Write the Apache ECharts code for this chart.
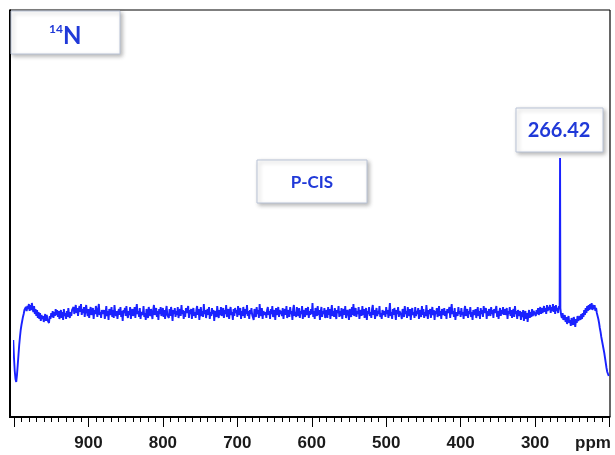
<!DOCTYPE html>
<html>
<head>
<meta charset="utf-8">
<script src="https://cdn.jsdelivr.net/npm/echarts@6/dist/echarts.min.js"></script>
<style>html,body{margin:0;padding:0;background:#fff}#c{width:615px;height:455px}</style>
</head>
<body>
<div id="c"></div>
<script>
// Spectrum sampling (ppm), uniformly spaced
const ppmStart = 1001;
const ppmStep = 1;
// Intensities (arbitrary units, baseline ~0), one per sample, 1001 -> 201 ppm
const intensity = [
  -27,-45,-58,-66,-69,-62,-52,-42,-32,-24,-17,-12,-8,-4,-1,3,1,6,2,7,
  4,9,2,8,3,10,5,1,7,-1,4,-3,3,-5,1,-6,0,-8,-2,-6,
  -3,-9,-4,-1,-8,-2,-7,-5,-10,-3,-6,0,-4,2,-5,1,-3,4,-2,3,
  -4,2,-6,-1,3,-5,1,-7,4,-3,0,-6,2,-4,5,-2,-5,1,-3,3,
  2,6,-1,4,8,0,5,-3,3,7,1,9,-2,4,0,6,-4,3,8,1,
  -3,4,-5,2,6,-2,0,5,-6,3,-1,7,2,-4,4,9,-2,1,-5,3,
  5,-1,3,-6,0,7,-3,2,-7,4,1,-2,6,-4,3,-5,8,0,-3,2,
  -6,1,4,-2,6,-4,2,-8,3,0,5,-3,7,-1,-5,2,-2,6,-6,1,
  4,-3,0,6,-5,3,9,-1,2,-4,5,-6,1,3,-2,7,-4,0,-7,4,
  2,-5,6,1,-3,4,-1,-6,3,8,-2,0,5,-4,2,-7,4,-1,6,-3,
  1,5,-4,3,-6,2,7,-2,0,-5,4,-3,6,1,-8,3,-1,5,-4,2,
  -2,6,-5,0,4,-3,8,-1,3,-6,2,-4,5,0,-2,7,-5,3,-1,4,
  -6,2,5,-3,1,-5,3,7,-2,4,-7,0,6,-3,2,-4,9,-1,3,-5,
  0,4,-2,6,-6,1,-3,5,-1,3,-8,2,4,-4,7,0,-5,3,-2,6,
  -3,1,5,-5,3,-1,8,-4,0,4,-6,2,6,-2,1,-7,4,-3,5,0,
  3,-4,7,-2,0,5,-6,2,-3,6,1,-5,4,-1,8,-3,2,-6,3,-1,
  5,-2,0,-7,4,1,-4,6,-1,3,-5,9,0,-3,5,-6,2,4,-2,1,
  -5,3,6,-2,2,-6,4,-1,7,-4,0,3,-7,5,-2,1,6,-4,3,-1,
  2,-3,5,-6,1,4,-2,7,-5,0,3,-4,6,-1,2,-7,4,8,-3,1,
  -4,6,0,-3,5,-5,2,-1,7,-6,3,1,-4,5,-2,0,6,-5,2,-2,
  4,-1,10,-4,2,-6,5,0,-3,7,-2,3,-7,1,6,-4,2,-1,5,-5,
  0,3,-5,6,-2,4,-6,1,8,-3,2,-4,5,-1,-6,3,0,7,-4,2,
  -3,5,-6,1,4,-2,7,-5,0,3,-1,-7,4,2,-4,6,-2,9,-3,1,
  5,-4,2,-1,6,-6,0,3,-3,7,-2,4,-5,1,5,-7,2,-1,6,-3,
  1,-5,4,8,-2,3,-6,0,5,-3,2,-1,7,-4,0,-6,3,5,-2,2,
  -4,6,-1,3,-5,2,10,-3,1,-6,4,-2,5,0,-7,3,-1,6,-4,2,
  3,-2,-6,4,1,-4,7,-1,2,-5,6,0,-3,4,-7,2,5,-2,1,-5,
  6,-3,2,-1,5,-6,3,0,-4,7,-2,4,-5,1,-3,8,0,-6,3,-1,
  4,-5,1,6,-2,3,-7,2,-1,5,-4,0,7,-3,2,-6,4,1,-2,5,
  -3,2,-6,4,0,-2,6,-5,3,9,-1,2,-4,5,-7,1,3,-3,6,-1,
  2,-4,5,-2,1,-6,3,7,-3,0,4,-5,2,-1,6,-4,1,-7,3,5,
  -2,4,-5,0,6,-3,2,-6,5,-1,3,-4,7,0,-2,5,-6,2,-3,4,
  1,-3,6,-1,3,-5,4,0,-2,7,-4,2,-6,1,5,-3,3,-1,6,-2,
  4,-2,0,5,-6,2,-1,6,-3,3,-5,1,4,-4,7,-1,2,-6,3,0,
  -3,2,-7,1,-4,3,-8,-1,2,-6,0,-9,-2,3,-5,1,-4,4,-3,2,
  0,4,-3,3,-1,5,-2,2,6,-1,5,0,3,7,1,5,-1,8,2,6,
  3,8,0,6,2,9,1,7,-1,8,2,5,0,7,4,5,-2,-5,0,-7,
  -6,-2,-9,-4,-11,-6,-3,-10,-7,-13,-5,-9,-12,-4,-8,-14,-6,-10,-3,-8,
  -9,-3,-7,-1,-6,0,-4,3,-2,5,0,7,2,8,3,9,4,10,3,8,
  4,8,2,5,0,-3,-6,-10,-15,-19,-24,-28,-32,-36,-40,-45,-50,-55,-59,-61,
  -63
];
// The single resonance
const peakPpm = 266.42;
const peakHeight = 155;
// Axis ticks
const tickValues = [900, 800, 700, 600, 500, 400, 300];
const unitLabel = 'ppm';
const nucleusMass = '14';
const nucleusSymbol = 'N';
const sampleName = 'P-CIS';

const data = [];
for (let i = 0; i < intensity.length; i++) {
  const ppm = ppmStart - i * ppmStep;
  data.push([ppm, intensity[i]]);
  const next = ppm - ppmStep;
  if (ppm > peakPpm && next < peakPpm) data.push([peakPpm, peakHeight]);
}

const blue = '#2039d8';
const boxStyle = {
  fill: '#fff', stroke: '#b9c3d6', lineWidth: 1,
  shadowBlur: 4, shadowColor: 'rgba(0,0,0,0.28)', shadowOffsetX: 2, shadowOffsetY: 2
};

const chart = echarts.init(document.getElementById('c'), null, {renderer: 'canvas'});
chart.setOption({
  animation: false,
  backgroundColor: '#fff',
  grid: {left: 14, right: 5.5, top: 10, bottom: 38},
  xAxis: {
    type: 'value', inverse: true, min: 200, max: 1000, interval: 100,
    axisLine: {show: true, onZero: false, lineStyle: {color: '#000', width: 2}},
    axisTick: {show: true, length: 10, lineStyle: {color: '#000', width: 1}},
    minorTick: {show: true, splitNumber: 10, length: 5, lineStyle: {color: '#000', width: 1}},
    splitLine: {show: false},
    axisLabel: {
      showMinLabel: true, showMaxLabel: false, margin: 18,
      fontFamily: 'Liberation Sans', fontWeight: 'bold', fontSize: 17, color: '#1a1a1a',
      formatter: function (v) {
        if (v === 200) return '{u|' + unitLabel + '}';
        return tickValues.indexOf(v) >= 0 ? String(v) : '';
      },
      rich: {u: {fontFamily: 'Liberation Sans', fontWeight: 'bold', fontSize: 17, color: '#1a1a1a', padding: [0, 33, 0, 0]}}
    }
  },
  yAxis: {
    type: 'value', min: -104, max: 303, show: false
  },
  series: [{
    type: 'line', data: data, showSymbol: false, clip: false,
    lineStyle: {color: '#1a22ff', width: 1.9},
    sampling: null, silent: true
  }],
  graphic: [
    {type: 'line', shape: {x1: 10, y1: 10, x2: 610, y2: 10}, style: {stroke: '#000', lineWidth: 1.2}},
    {type: 'line', shape: {x1: 610, y1: 10, x2: 610, y2: 417}, style: {stroke: '#000', lineWidth: 1.2}},
    {type: 'line', shape: {x1: 10, y1: 9.5, x2: 10, y2: 418}, style: {stroke: '#000', lineWidth: 2}},
    {type: 'line', shape: {x1: 9, y1: 417, x2: 15, y2: 417}, style: {stroke: '#000', lineWidth: 2}},
    {type: 'rect', shape: {x: 11, y: 11, width: 109, height: 43}, style: boxStyle, z: 10},
    {type: 'text', x: 63, y: 29, style: {text: nucleusMass, fontFamily: 'Lato', fontWeight: 'bold', fontSize: 12, fill: blue, align: 'right', verticalAlign: 'middle'}, z: 11},
    {type: 'text', x: 63, y: 36, style: {text: nucleusSymbol, fontFamily: 'Lato', fontWeight: 'bold', fontSize: 24, fill: blue, align: 'left', verticalAlign: 'middle'}, z: 11},
    {type: 'rect', shape: {x: 257, y: 160, width: 110, height: 43}, style: boxStyle, z: 10},
    {type: 'text', x: 312, y: 183, style: {text: sampleName, fontFamily: 'Lato', fontWeight: 'bold', fontSize: 17, fill: blue, align: 'center', verticalAlign: 'middle'}, z: 11},
    {type: 'rect', shape: {x: 516, y: 108, width: 87, height: 44}, style: boxStyle, z: 10},
    {type: 'text', x: 559, y: 131, style: {text: peakPpm.toFixed(2), fontFamily: 'Lato', fontWeight: 'bold', fontSize: 20, fill: blue, align: 'center', verticalAlign: 'middle'}, z: 11}
  ]
});
</script>
</body>
</html>
